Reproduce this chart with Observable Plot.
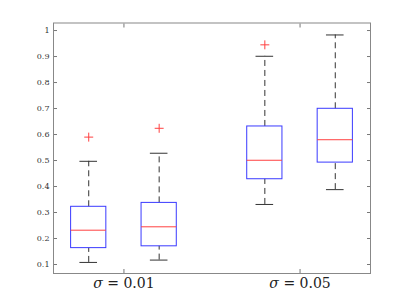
<!DOCTYPE html>
<html><head><meta charset="utf-8">
<script src="https://cdn.jsdelivr.net/npm/d3@7"></script>
<script src="https://cdn.jsdelivr.net/npm/@observablehq/plot@0.6"></script>
<style>body{margin:0;background:#fff}svg{display:block}</style>
</head><body><div id="chart"></div>
<script>
// ---- data ----
const groups = ["σ = 0.01", "σ = 0.05"];
const boxGroup = [0, 0, 1, 1];
const lowerWhisker = [0.108, 0.117, 0.331, 0.388];
const q1 = [0.163, 0.170, 0.428, 0.492];
const median = [0.232, 0.245, 0.501, 0.580];
const q3 = [0.322, 0.337, 0.631, 0.699];
const upperWhisker = [0.497, 0.528, 0.901, 0.983];
const outlierBox = [0, 1, 2];
const outlierValue = [0.590, 0.624, 0.945];
const yTicks = [0.1, 0.2, 0.3, 0.4, 0.5, 0.6, 0.7, 0.8, 0.9, 1];

// ---- layout helpers ----
const spread = 0.2, halfBox = 0.1, halfCap = 0.05;
const boxes = boxGroup.map((g, i) => ({
  x: g + 1 + (i % 2 === 0 ? -spread : spread),
  lw: lowerWhisker[i], q1: q1[i], med: median[i], q3: q3[i], uw: upperWhisker[i]
}));
const outs = outlierBox.map((b, i) => ({x: boxes[b].x, y: outlierValue[i]}));

const blue = "#3a3aff", red = "#ff4040", whisk = "#333";
const font = "DejaVu Serif, serif";

const chart = Plot.plot({
  width: 409, height: 307,
  marginLeft: 53, marginRight: 39, marginTop: 22.5, marginBottom: 34,
  style: {background: "#fff", fontFamily: font},
  x: {type: "linear", domain: [0.6, 2.4]},
  y: {domain: [0.0654, 1.029]},
  marks: [
    // whiskers
    Plot.ruleX(boxes, {x: "x", y1: "q3", y2: "uw", stroke: whisk, strokeDasharray: "6,4"}),
    Plot.ruleX(boxes, {x: "x", y1: "lw", y2: "q1", stroke: whisk, strokeDasharray: "6,4"}),
    // caps
    Plot.ruleY(boxes, {y: "uw", x1: d => d.x - halfCap, x2: d => d.x + halfCap, stroke: whisk}),
    Plot.ruleY(boxes, {y: "lw", x1: d => d.x - halfCap, x2: d => d.x + halfCap, stroke: whisk}),
    // boxes
    Plot.rect(boxes, {x1: d => d.x - halfBox, x2: d => d.x + halfBox, y1: "q1", y2: "q3", fill: "none", stroke: blue}),
    // medians
    Plot.ruleY(boxes, {y: "med", x1: d => d.x - halfBox, x2: d => d.x + halfBox, stroke: red}),
    // outliers
    Plot.dot(outs, {x: "x", y: "y", symbol: "plus", r: 3, stroke: red, strokeWidth: 1}),
    // axes
    Plot.axisY({anchor: "left", ticks: yTicks, tickSize: -4, tickPadding: 8, tickFormat: d => String(d), fontSize: 8, color: "#333", stroke: "#777", label: null}),
    Plot.axisY({anchor: "right", ticks: yTicks, tickSize: -4, tickFormat: () => "", stroke: "#777", label: null}),
    Plot.axisX({anchor: "bottom", ticks: [1, 2], tickSize: -4, tickPadding: 9, tickFormat: d => groups[d - 1], fontSize: 14, color: "#222", stroke: "#777", label: null}),
    Plot.axisX({anchor: "top", ticks: [1, 2], tickSize: -4, tickFormat: () => "", stroke: "#777", label: null}),
    Plot.frame({stroke: "#888"})
  ]
});
document.getElementById("chart").append(chart);

// italic sigma in x labels
d3.select(chart).selectAll("text").each(function() {
  const t = this.textContent;
  if (t.startsWith("σ")) {
    const sel = d3.select(this);
    sel.text(null);
    sel.append("tspan").attr("font-style", "italic").text("σ");
    sel.append("tspan").text(t.slice(1));
  }
});
</script>
</body></html>
